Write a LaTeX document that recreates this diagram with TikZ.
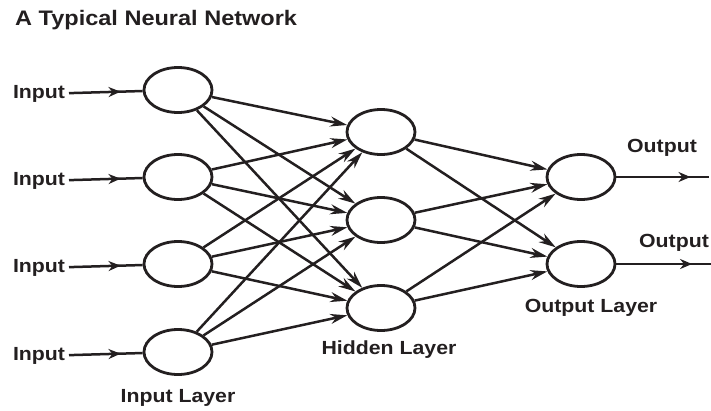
\documentclass[tikz,border=0pt]{standalone}
\usepackage{fontspec}
\setmainfont{Liberation Sans}
\newfontfamily\lblfont{Liberation Sans}[FakeStretch=1.12]
\usetikzlibrary{shapes.geometric,arrows.meta,positioning,decorations.markings}
\definecolor{inkBlack}{RGB}{35,31,32}
\tikzset{
  neuron/.style={draw=inkBlack,ellipse,line width=2.8pt,minimum width=68pt,minimum height=45pt,inner sep=0pt},
  lbl/.style={font=\lblfont\fontsize{19}{19}\selectfont\bfseries,text=inkBlack,inner sep=1pt},
  wire/.style={-{Stealth[length=17pt,width=10pt]},line width=2.5pt,inkBlack},
  feed/.style={line width=2.5pt,inkBlack,decoration={markings,
               mark=at position #1 with {\arrow{Stealth[length=12pt,width=10pt]}}},postaction={decorate}},
  feed/.default=0.7,
}

\begin{document}
\begin{tikzpicture}[x=1pt,y=-1pt]
  \useasboundingbox (0,0) rectangle (711,410);
  \node[lbl,anchor=base west,font=\lblfont\fontsize{21}{21}\selectfont\bfseries] (title) at (14,25) {A Typical Neural Network};
  \foreach \n/\y in {1/90,2/177,3/264,4/352} {
    \node[neuron] (i\n) at (178,\y) {};
    \node[lbl,anchor=east,outer sep=3pt] (in\n) at (69,\y+4) {Input};
  }
  \foreach \n/\y in {1/132,2/220,3/308}
    \node[neuron] (h\n) at (381,\y) {};
  \foreach \n/\y in {1/177,2/264}
    \node[neuron] (o\n) at (581,\y) {};
  \node[lbl,below=12pt of i4] (inlayer) {Input Layer};
  \node[lbl,below=8pt of h3,xshift=8pt] (hidlayer) {Hidden Layer};
  \node[lbl,below=10pt of o2,xshift=10pt] (outlayer) {Output Layer};
  \node[lbl] (out1) at (662,148) {Output};
  \node[lbl] (out2) at (674,243) {Output};
  \coordinate (e1) at (709,177);
  \coordinate (e2) at (711,264);
  \foreach \n in {1,...,4}
    \draw[feed] (in\n) -- (i\n);
  \foreach \a in {1,...,4}
    \foreach \b in {1,2,3}
      \draw[wire] (i\a) -- (h\b);
  \foreach \a in {1,2,3}
    \foreach \b in {1,2}
      \draw[wire] (h\a) -- (o\b);
  \foreach \n in {1,2}
    \draw[feed=0.8] (o\n) -- (e\n);
\end{tikzpicture}
\end{document}
